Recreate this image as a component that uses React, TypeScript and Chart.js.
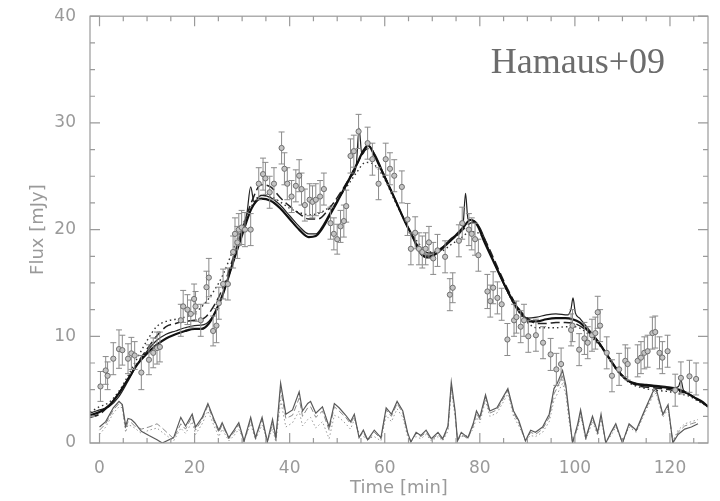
import React, { useEffect, useRef } from "react";
import { Chart, registerables } from "chart.js";
Chart.register(...registerables);

// ---------- axes ----------
const X_MIN = -2;
const X_MAX = 128;
const Y_MIN = 0;
const Y_MAX = 40;
const X_TICK_LABELS = [0, 20, 40, 60, 80, 100, 120];
const X_MINOR_TICKS = [0, 5, 10, 15, 20, 25, 30, 35, 40, 45, 50, 55, 60, 65, 70, 75, 80, 85, 90, 95, 100, 105, 110, 115, 120, 125];
const Y_MAJOR_TICKS = [0, 10, 20, 30, 40];
const Y_MINOR_TICKS = [2.5, 5, 7.5, 12.5, 15, 17.5, 22.5, 25, 27.5, 32.5, 35, 37.5];

// ---------- data points (time, flux, error) ----------
const DATA_T = [0.2, 1.3, 1.7, 2.9, 4.1, 4.8, 6.0, 6.7, 7.4, 8.8, 10.4, 11.3, 12.1, 12.7, 17.1, 17.6, 18.5, 19.2, 19.9, 20.2, 21.3, 22.5, 23.0, 23.9, 24.6, 25.1, 26.0, 27.0, 28.1, 28.5, 29.0, 29.3, 29.9, 30.6, 31.8, 33.5, 34.4, 34.9, 35.8, 36.7, 38.3, 38.9, 39.5, 40.4, 41.3, 42.0, 42.5, 43.2, 44.2, 44.8, 45.5, 46.4, 47.2, 48.6, 49.3, 50.0, 50.7, 51.4, 51.9, 52.8, 53.5, 54.5, 56.4, 57.4, 58.7, 60.2, 61.1, 62.0, 63.6, 64.8, 65.5, 66.4, 67.2, 67.9, 68.6, 69.3, 70.2, 71.1, 72.7, 73.7, 74.3, 75.6, 76.3, 77.7, 78.3, 79.0, 79.7, 81.6, 82.2, 82.8, 83.7, 84.6, 85.8, 87.2, 87.7, 88.6, 89.3, 90.2, 91.8, 93.3, 94.9, 96.1, 97.1, 99.2, 99.5, 100.9, 102.0, 102.7, 103.6, 104.3, 104.8, 105.3, 106.7, 107.8, 109.3, 110.6, 111.1, 113.2, 113.9, 114.6, 115.3, 116.3, 116.9, 117.8, 118.4, 119.5, 121.1, 122.3, 124.1, 125.5];
const DATA_V = [5.3, 6.8, 6.3, 7.9, 8.8, 8.7, 7.9, 8.4, 8.2, 6.6, 7.8, 8.45, 8.9, 9.0, 11.5, 12.8, 12.5, 12.1, 13.5, 12.8, 11.5, 14.6, 15.5, 10.5, 11.0, 13.1, 14.9, 14.9, 17.9, 19.6, 18.8, 20.0, 20.2, 20.0, 20.0, 24.3, 25.2, 24.8, 23.5, 24.3, 27.65, 25.7, 24.3, 23.1, 24.1, 25.05, 23.8, 22.3, 22.8, 22.6, 22.8, 23.1, 23.8, 20.6, 19.6, 19.1, 20.3, 20.8, 22.2, 26.9, 27.35, 29.2, 28.1, 26.6, 24.3, 26.6, 25.7, 25.05, 24.0, 20.95, 18.2, 19.7, 18.2, 17.9, 18.2, 18.8, 17.3, 18.05, 17.45, 13.9, 14.55, 18.95, 20.6, 20.0, 19.6, 19.1, 17.6, 14.2, 13.3, 14.55, 13.6, 13.0, 9.7, 11.5, 11.8, 10.9, 11.5, 10.0, 10.1, 9.4, 8.3, 6.9, 7.4, 10.6, 11.0, 8.75, 9.8, 9.4, 10.1, 10.3, 12.25, 11.0, 8.45, 6.3, 6.9, 7.7, 7.4, 7.7, 8.0, 8.45, 8.6, 10.3, 10.4, 8.45, 8.0, 8.6, 4.95, 6.1, 6.25, 6.0];
const DATA_E = [1.4, 1.3, 1.3, 1.5, 1.8, 1.4, 1.4, 1.5, 1.3, 1.6, 1.4, 1.4, 1.5, 1.4, 1.5, 1.5, 1.4, 1.3, 1.4, 1.4, 1.5, 1.5, 1.8, 1.4, 1.6, 1.5, 1.4, 1.5, 1.5, 1.5, 1.5, 1.5, 1.6, 1.6, 1.5, 1.5, 1.5, 1.5, 1.5, 1.5, 1.5, 1.5, 1.5, 1.5, 1.5, 1.5, 1.5, 1.5, 1.5, 1.5, 1.5, 1.5, 1.5, 1.5, 1.5, 1.4, 1.5, 1.5, 1.5, 1.6, 1.5, 1.6, 1.5, 1.5, 1.5, 1.5, 1.5, 1.5, 1.5, 1.5, 1.5, 1.5, 1.5, 1.5, 1.5, 1.5, 1.5, 1.5, 1.5, 1.5, 1.4, 1.5, 1.5, 1.5, 1.5, 1.5, 1.5, 1.6, 1.5, 1.5, 1.5, 1.5, 1.5, 1.5, 1.5, 1.5, 1.5, 1.5, 1.5, 1.5, 1.5, 1.5, 1.5, 1.5, 1.5, 1.5, 1.5, 1.5, 1.5, 1.5, 1.5, 1.5, 1.5, 1.5, 1.5, 1.5, 1.5, 1.5, 1.5, 1.5, 1.5, 1.5, 1.5, 1.5, 1.5, 1.5, 1.5, 1.5, 1.5, 1.5];

// ---------- model curves ----------
const M1_T = [-2, 0, 2, 4, 6, 8, 10, 12, 14, 16, 18, 20, 21.5, 23, 24.5, 26, 28, 30, 32, 34, 36, 38, 40, 42, 44, 45.5, 47, 48.5, 50, 52, 54, 55.5, 56.5, 58, 60, 62, 64, 66, 67.5, 69, 71, 73, 75, 76.5, 78, 79.5, 81, 83, 85, 87, 89, 90.5, 92, 94, 96, 98, 99.5, 101, 103, 105, 107, 109, 111, 113, 115, 117, 119, 121, 123, 125, 127, 128];
const M1_V = [2.6, 2.9, 3.5, 4.6, 6.0, 7.4, 8.4, 9.2, 9.8, 10.2, 10.5, 10.7, 10.7, 11.2, 12.4, 14.0, 16.8, 19.5, 22.0, 22.9, 22.7, 22.0, 21.0, 20.0, 19.3, 19.4, 20.2, 21.4, 22.6, 24.3, 26.0, 27.4, 27.9, 26.8, 24.9, 23.0, 21.0, 19.2, 17.8, 17.4, 17.8, 18.6, 19.5, 20.2, 20.9, 20.4, 18.8, 16.9, 15.0, 13.3, 12.0, 11.4, 11.4, 11.6, 11.7, 11.7, 11.6, 11.3, 10.4, 9.4, 8.1, 6.8, 5.9, 5.5, 5.4, 5.3, 5.2, 5.1, 4.8, 4.3, 3.8, 3.4];

const M2_T = [-2, 0, 2, 4, 6, 8, 10, 12, 14, 16, 18, 20, 22, 24, 26, 28, 30, 31, 31.8, 32.5, 34, 36, 38, 40, 42, 44, 45.5, 47, 49, 51, 53, 54, 54.6, 55.2, 56.5, 58, 60, 62, 64, 66, 68, 70, 72, 74, 76, 76.5, 77.0, 77.5, 78.5, 80, 82, 84, 86, 88, 90, 92, 94, 96, 98.5, 99.2, 99.6, 100.1, 101, 103, 105, 107, 109, 111, 113, 115, 117, 119, 121, 121.8, 122.3, 122.8, 124, 126, 128];
const M2_V = [2.8, 3.1, 3.4, 4.3, 5.8, 7.4, 8.6, 9.6, 10.2, 10.5, 10.8, 11.0, 11.1, 12.0, 14.0, 16.8, 19.8, 21.5, 24.0, 22.6, 23.2, 23.0, 22.3, 21.3, 20.3, 19.6, 19.6, 20.4, 22.0, 23.4, 25.0, 26.0, 29.5, 27.0, 27.9, 27.0, 25.0, 23.0, 21.0, 19.3, 17.6, 17.6, 18.3, 19.2, 19.8, 20.5, 23.4, 21.0, 20.9, 20.2, 18.0, 15.9, 14.0, 12.4, 11.7, 11.8, 12.0, 12.1, 12.0, 12.6, 13.6, 12.2, 11.7, 10.6, 9.5, 8.1, 6.8, 5.9, 5.6, 5.5, 5.4, 5.3, 5.2, 5.3, 5.9, 5.0, 4.6, 4.0, 3.5];

const M3_T = [-2, 0, 2, 4, 6, 8, 10, 12, 14, 16, 18, 20, 22, 24, 26, 28, 30, 32, 34, 36, 38, 40, 42, 44, 46, 48, 50, 52, 54, 56, 57, 58, 60, 62, 64, 66, 68, 70, 72, 74, 76, 78, 79, 80, 82, 84, 86, 88, 90, 92, 94, 96, 98, 100, 102, 104, 106, 108, 110, 112, 114, 116, 118, 120, 122, 124, 126, 128];
const M3_V = [2.4, 2.7, 3.5, 4.6, 6.0, 7.5, 8.8, 10.0, 10.9, 11.2, 11.4, 11.5, 11.7, 12.8, 14.6, 17.2, 20.0, 22.6, 24.2, 24.0, 23.0, 22.2, 21.5, 21.0, 21.0, 21.8, 23.0, 24.4, 26.0, 27.5, 27.6, 26.8, 25.0, 23.0, 21.0, 19.2, 18.0, 17.8, 18.3, 19.0, 19.8, 20.6, 20.7, 20.0, 18.2, 16.2, 14.3, 12.7, 11.7, 11.2, 11.2, 11.3, 11.3, 11.2, 10.7, 9.9, 8.8, 7.4, 6.3, 5.6, 5.3, 5.2, 5.1, 5.0, 4.8, 4.6, 4.0, 3.4];

const M4_T = [-2, 0, 2, 4, 6, 8, 10, 12, 14, 16, 18, 20, 22, 24, 26, 28, 30, 32, 34, 36, 38, 40, 42, 44, 46, 48, 50, 52, 54, 56, 58, 60, 62, 64, 66, 68, 70, 72, 74, 76, 78, 80, 82, 84, 86, 88, 90, 92, 94, 96, 98, 100, 102, 104, 106, 108, 110, 112, 114, 116, 118, 120, 122, 124, 126, 128];
const M4_V = [2.9, 3.4, 3.8, 4.8, 6.3, 8.0, 9.6, 10.9, 11.4, 11.6, 11.8, 12.2, 13.0, 14.2, 15.8, 18.0, 20.3, 22.2, 23.2, 23.1, 22.6, 22.0, 21.6, 21.4, 21.5, 22.0, 22.8, 24.0, 25.3, 26.3, 26.0, 24.7, 22.8, 21.0, 19.4, 18.3, 17.9, 18.0, 18.6, 19.2, 19.8, 19.6, 18.0, 16.0, 14.0, 12.4, 11.3, 10.8, 10.8, 10.8, 10.9, 10.9, 10.5, 9.7, 8.7, 7.3, 6.2, 5.5, 5.2, 5.0, 4.9, 4.8, 4.6, 4.4, 3.9, 3.4];

// ---------- residuals ----------
const RES_T = [0, 1.3, 2.9, 4.1, 4.8, 5.5, 6.0, 6.7, 7.4, 8.8, 10.4, 12.1, 13.2, 15.6, 17.1, 18.1, 19.5, 20.2, 21.6, 22.8, 24.1, 25.1, 25.8, 27.2, 28.3, 29.3, 30.4, 31.8, 32.8, 34.2, 35.3, 36.4, 37.1, 38.1, 39.2, 40.6, 42.0, 42.7, 43.8, 44.4, 45.5, 46.9, 48.3, 49.4, 50.4, 51.8, 52.8, 53.6, 54.6, 55.5, 56.4, 57.8, 59.2, 60.3, 61.4, 62.6, 63.8, 64.8, 65.5, 66.6, 67.6, 68.7, 69.8, 71.2, 72.2, 73.3, 74.0, 74.8, 75.3, 76.1, 77.5, 78.6, 79.3, 80.0, 81.2, 82.1, 83.6, 85.9, 87.1, 88.2, 89.6, 90.7, 91.7, 93.2, 94.6, 95.6, 96.3, 97.4, 98.1, 98.8, 99.5, 100.6, 101.2, 102.3, 103.7, 104.8, 105.5, 106.5, 107.6, 108.6, 110.0, 111.4, 112.9, 114.6, 116.4, 117.1, 118.5, 119.6, 120.6, 121.7, 123.1, 124.5, 125.9];
const RES_SOLID = [1.5, 2.0, 3.3, 3.9, 3.6, 1.6, 2.3, 2.2, 1.9, 1.1, 0.7, 0.3, 0.0, 0.5, 2.4, 1.6, 2.7, 1.5, 2.4, 3.7, 2.2, 1.2, 1.9, 0.5, 1.2, 1.9, 0.2, 2.4, 0.5, 2.4, 0.1, 2.2, 0.5, 5.6, 2.7, 3.1, 4.8, 3.0, 3.7, 3.9, 2.8, 3.4, 1.5, 3.7, 3.3, 2.6, 2.0, 2.7, 0.5, 1.2, 0.3, 1.2, 0.5, 3.3, 2.7, 3.9, 3.0, 1.0, 0.1, 1.0, 0.7, 1.2, 0.4, 1.0, 0.4, 1.6, 5.7, 3.0, 0.2, 1.0, 0.5, 1.8, 3.0, 2.4, 4.5, 3.0, 3.3, 5.1, 3.0, 2.1, 0.2, 1.2, 1.0, 1.5, 2.7, 5.1, 5.6, 6.8, 5.4, 2.7, 0.0, 1.8, 3.1, 0.5, 2.5, 1.0, 2.7, 0.0, 1.0, 1.8, 0.0, 1.8, 1.2, 3.0, 4.8, 5.1, 2.7, 3.6, 0.0, 0.8, 1.3, 1.5, 1.8];
const RES_DASH = [1.2, 1.8, 3.1, 3.7, 3.5, 1.3, 2.0, 1.9, 1.6, 1.3, 1.5, 1.8, 1.4, 0.4, 1.8, 1.3, 2.5, 1.2, 2.2, 3.5, 2.0, 1.0, 1.7, 0.4, 1.0, 1.7, 0.1, 2.2, 0.4, 2.2, 0.1, 1.8, 0.3, 5.0, 2.3, 2.6, 4.2, 2.5, 3.3, 3.4, 2.4, 3.0, 1.2, 3.4, 3.0, 2.4, 1.8, 2.5, 0.6, 1.0, 0.2, 1.0, 0.4, 3.1, 2.5, 3.7, 2.8, 0.9, 0.1, 0.9, 0.6, 1.0, 0.3, 0.8, 0.3, 1.4, 5.4, 2.8, 0.2, 0.8, 0.4, 1.6, 2.8, 2.2, 4.3, 2.8, 3.1, 4.9, 2.8, 1.9, 0.2, 1.0, 0.8, 1.3, 2.4, 4.6, 5.2, 6.3, 5.0, 2.4, 0.0, 1.6, 2.9, 0.4, 2.3, 0.9, 2.5, 0.0, 0.9, 1.7, 0.0, 1.7, 1.1, 2.9, 4.6, 4.9, 2.6, 3.4, 0.1, 1.0, 1.6, 1.8, 2.0];
const RES_DOT = [0.8, 1.5, 2.8, 3.4, 3.3, 1.0, 1.7, 1.6, 1.4, 0.9, 1.2, 1.4, 1.0, 0.2, 1.4, 0.9, 2.0, 0.8, 1.8, 3.0, 1.6, 0.6, 1.3, 0.2, 0.7, 1.3, 0.2, 1.8, 0.3, 1.7, 0.2, 1.3, 0.1, 4.0, 1.5, 1.9, 3.0, 1.6, 2.2, 2.4, 1.4, 2.0, 0.4, 2.6, 2.4, 1.8, 1.3, 2.2, 0.9, 0.6, 0.4, 0.6, 0.2, 2.6, 2.0, 3.2, 2.4, 0.6, 0.3, 0.6, 0.4, 0.8, 0.2, 0.6, 0.2, 1.1, 5.0, 2.5, 0.3, 0.6, 0.7, 1.3, 2.4, 1.9, 4.0, 2.5, 2.8, 4.6, 2.5, 1.6, 0.3, 0.7, 0.6, 1.0, 2.0, 4.0, 4.6, 5.6, 4.5, 2.0, 0.2, 1.3, 2.6, 0.3, 2.0, 0.7, 2.2, 0.1, 0.7, 1.5, 0.1, 1.5, 1.0, 2.7, 4.4, 4.7, 2.4, 3.2, 0.2, 1.2, 1.8, 2.0, 2.2];

const zip = (t: number[], v: number[]) => t.map((x, i) => ({ x, y: v[i] }));

const AXIS_COLOR = "#9a9a9a";
const TEXT_COLOR = "#9a9a9a";

const frameTicksPlugin = {
  id: "frameTicks",
  afterDraw(chart: any) {
    const { ctx, chartArea: a, scales } = chart;
    const xs = scales.x;
    const ys = scales.y;
    ctx.save();
    ctx.strokeStyle = AXIS_COLOR;
    ctx.lineWidth = 1.2;
    ctx.strokeRect(a.left, a.top, a.right - a.left, a.bottom - a.top);
    ctx.beginPath();
    X_MINOR_TICKS.forEach((v) => {
      const px = xs.getPixelForValue(v);
      const len = X_TICK_LABELS.includes(v) ? 10 : 5;
      ctx.moveTo(px, a.bottom);
      ctx.lineTo(px, a.bottom - len);
      ctx.moveTo(px, a.top);
      ctx.lineTo(px, a.top + len);
    });
    const yAll = [...Y_MAJOR_TICKS.map((v) => [v, 10]), ...Y_MINOR_TICKS.map((v) => [v, 5])];
    yAll.forEach(([v, len]) => {
      const py = ys.getPixelForValue(v);
      ctx.moveTo(a.left, py);
      ctx.lineTo(a.left + len, py);
      ctx.moveTo(a.right, py);
      ctx.lineTo(a.right - len, py);
    });
    ctx.stroke();
    ctx.restore();
  },
};

const errorBarPlugin = {
  id: "errorBars",
  beforeDatasetDraw(chart: any, args: any) {
    if (args.index !== 0) return;
    const { ctx, scales } = chart;
    const xs = scales.x;
    const ys = scales.y;
    ctx.save();
    ctx.strokeStyle = "#8a8a8a";
    ctx.lineWidth = 1;
    ctx.beginPath();
    DATA_T.forEach((t, i) => {
      const px = xs.getPixelForValue(t);
      const top = ys.getPixelForValue(DATA_V[i] + DATA_E[i]);
      const bot = ys.getPixelForValue(DATA_V[i] - DATA_E[i]);
      ctx.moveTo(px, top);
      ctx.lineTo(px, bot);
      ctx.moveTo(px - 3, top);
      ctx.lineTo(px + 3, top);
      ctx.moveTo(px - 3, bot);
      ctx.lineTo(px + 3, bot);
    });
    ctx.stroke();
    ctx.restore();
  },
};

const labelPlugin = {
  id: "paperLabel",
  afterDraw(chart: any) {
    const { ctx, chartArea: a } = chart;
    ctx.save();
    ctx.font = '36px "Liberation Serif"';
    ctx.fillStyle = "#6c6c6c";
    ctx.textAlign = "right";
    ctx.textBaseline = "alphabetic";
    ctx.fillText("Hamaus+09", a.right - 43, a.top + 57);
    ctx.restore();
  },
};

export default function App() {
  const ref = useRef<HTMLCanvasElement>(null);
  useEffect(() => {
    if (!ref.current) return;
    Chart.defaults.font.family = '"DejaVu Sans", sans-serif';
    const chart = new Chart(ref.current, {
      type: "scatter",
      data: {
        datasets: [
          {
            label: "data",
            data: zip(DATA_T, DATA_V),
            showLine: false,
            pointRadius: 2.6,
            pointBackgroundColor: "#c4c4c4",
            pointBorderColor: "#6f6f6f",
            pointBorderWidth: 1,
            order: 0,
          },
          {
            label: "model 1",
            data: zip(M1_T, M1_V),
            showLine: true,
            pointRadius: 0,
            borderColor: "#111",
            borderWidth: 2.2,
            cubicInterpolationMode: "monotone",
            order: 2,
          },
          {
            label: "model 2",
            data: zip(M2_T, M2_V),
            showLine: true,
            pointRadius: 0,
            borderColor: "#222",
            borderWidth: 1.2,
            cubicInterpolationMode: "monotone",
            order: 2,
          },
          {
            label: "model 3",
            data: zip(M3_T, M3_V),
            showLine: true,
            pointRadius: 0,
            borderColor: "#222",
            borderWidth: 1.5,
            borderDash: [9, 4],
            cubicInterpolationMode: "monotone",
            order: 2,
          },
          {
            label: "model 4",
            data: zip(M4_T, M4_V),
            showLine: true,
            pointRadius: 0,
            borderColor: "#333",
            borderWidth: 1.4,
            borderDash: [1.5, 3],
            cubicInterpolationMode: "monotone",
            order: 2,
          },
          {
            label: "residual 1",
            data: zip(RES_T, RES_SOLID),
            showLine: true,
            pointRadius: 0,
            borderColor: "#5a5a5a",
            borderWidth: 1.2,
            tension: 0,
            order: 3,
          },
          {
            label: "residual 2",
            data: zip(RES_T, RES_DASH),
            showLine: true,
            pointRadius: 0,
            borderColor: "#8a8a8a",
            borderWidth: 1,
            borderDash: [6, 3],
            tension: 0,
            order: 3,
          },
          {
            label: "residual 3",
            data: zip(RES_T, RES_DOT),
            showLine: true,
            pointRadius: 0,
            borderColor: "#999",
            borderWidth: 1,
            borderDash: [1.5, 2.5],
            tension: 0,
            order: 3,
          },
        ],
      },
      options: {
        responsive: false,
        animation: false,
        layout: { padding: { top: 5, right: 12, left: 0, bottom: 0 } },
        plugins: { legend: { display: false }, tooltip: { enabled: false } },
        scales: {
          x: {
            type: "linear",
            min: X_MIN,
            max: X_MAX,
            grid: { display: false },
            border: { display: false },
            afterBuildTicks: (s: any) => {
              s.ticks = X_TICK_LABELS.map((value) => ({ value }));
            },
            afterFit: (s: any) => {
              s.height = 58;
            },
            ticks: { color: TEXT_COLOR, font: { size: 17 }, padding: 7, maxRotation: 0, autoSkip: false },
            title: {
              display: true,
              text: "Time [min]",
              color: TEXT_COLOR,
              font: { size: 18 },
              padding: { top: 0, bottom: 2 },
            },
          },
          y: {
            type: "linear",
            min: Y_MIN,
            max: Y_MAX,
            grid: { display: false },
            border: { display: false },
            afterBuildTicks: (s: any) => {
              s.ticks = Y_MAJOR_TICKS.map((value) => ({ value }));
            },
            afterFit: (s: any) => {
              s.width = 90;
            },
            ticks: { color: TEXT_COLOR, font: { size: 17 }, padding: 6 },
            title: {
              display: true,
              text: "Flux [mJy]",
              color: TEXT_COLOR,
              font: { size: 18 },
              padding: { top: 28, bottom: 0 },
            },
          },
        },
      },
      plugins: [errorBarPlugin, frameTicksPlugin, labelPlugin],
    });
    return () => chart.destroy();
  }, []);
  return (
    <div style={{ position: "fixed", left: 0, top: 0, width: 720, height: 501, background: "#fff" }}>
      <canvas ref={ref} width={720} height={501} />
    </div>
  );
}
